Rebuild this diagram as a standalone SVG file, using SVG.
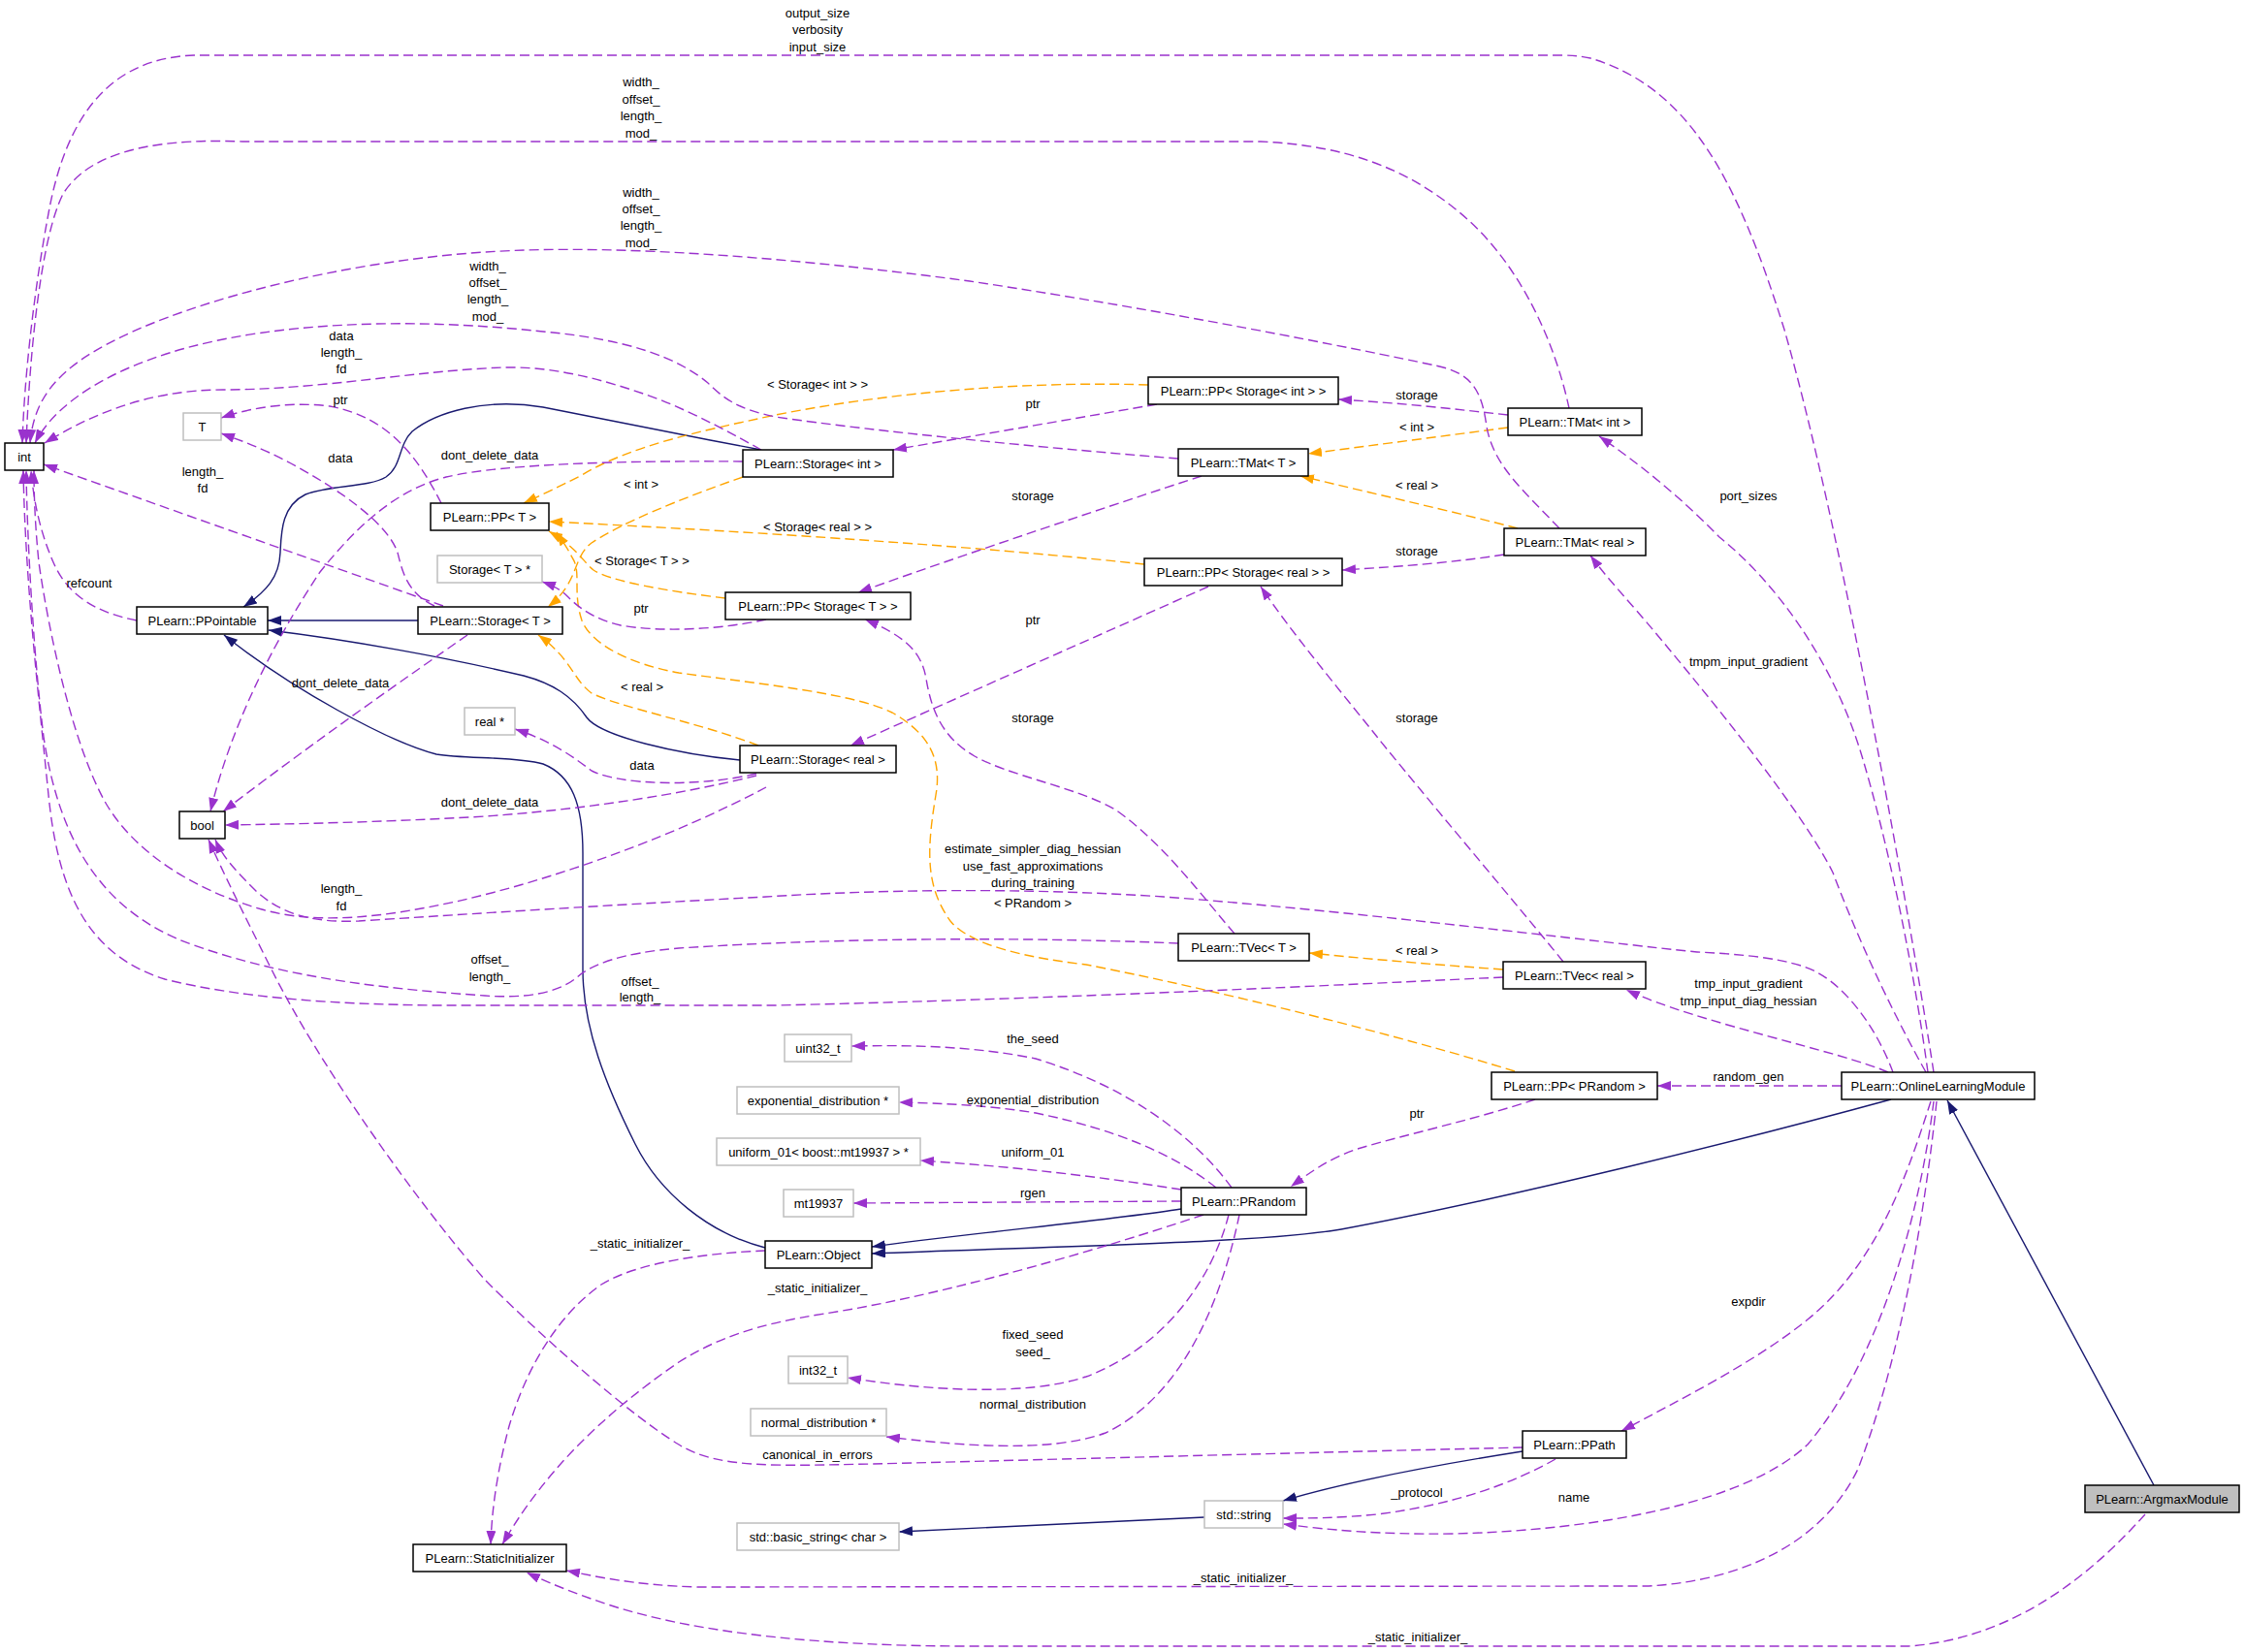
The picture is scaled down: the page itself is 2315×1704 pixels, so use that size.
<svg xmlns="http://www.w3.org/2000/svg" width="2315" height="1704" viewBox="0 0 2315 1704">
<style>
text{font-family:'Liberation Sans',Arial,Helvetica,sans-serif;font-size:13px;fill:#000;text-anchor:middle}
.n rect{fill:#fff;stroke:#000;stroke-width:1.5}
.g rect{fill:#fff;stroke:#bfbfbf;stroke-width:1.5}
.h rect{fill:#bfbfbf;stroke:#000;stroke-width:1.5}
.pu{fill:none;stroke:#9a32cd;stroke-width:1.4;stroke-dasharray:10,5;marker-end:url(#ap)}
.or{fill:none;stroke:#ffa500;stroke-width:1.4;stroke-dasharray:10,5;marker-end:url(#ao)}
.nv{fill:none;stroke:#191970;stroke-width:1.4;marker-end:url(#an)}
</style>
<defs>
<marker id="ap" viewBox="0 0 14 10" refX="14" refY="5" markerWidth="14" markerHeight="10" markerUnits="userSpaceOnUse" orient="auto"><path d="M0,0 L14,5 L0,10 z" fill="#9a32cd"/></marker>
<marker id="ao" viewBox="0 0 14 10" refX="14" refY="5" markerWidth="14" markerHeight="10" markerUnits="userSpaceOnUse" orient="auto"><path d="M0,0 L14,5 L0,10 z" fill="#ffa500"/></marker>
<marker id="an" viewBox="0 0 14 10" refX="14" refY="5" markerWidth="14" markerHeight="10" markerUnits="userSpaceOnUse" orient="auto"><path d="M0,0 L14,5 L0,10 z" fill="#191970"/></marker>
</defs>
<rect width="2315" height="1704" fill="#fff"/>
<g id="connectors">
<!-- inheritance -->
<path class="nv" d="M2221,1532 L2008,1135"/>
<path class="nv" d="M1950,1134 C1800,1175 1560,1235 1383,1268 C1300,1282 1100,1285 899,1293"/>
<path class="nv" d="M1218,1247 C1150,1258 1000,1272 899,1286"/>
<path class="nv" d="M789,1287 C730,1272 680,1230 655,1180 C625,1120 601,1060 601,1000 L601,880 C601,830 590,800 560,788 C530,780 480,783 450,778 C400,765 300,710 231,655"/>
<path class="nv" d="M431,640 L276,640"/>
<path class="nv" d="M763,784 C700,778 620,760 605,740 C590,718 570,705 540,697 C460,678 360,660 277,650"/>
<path class="nv" d="M785,464 C700,448 600,428 560,420 C500,410 450,425 425,445 C410,460 415,480 398,492 C380,503 340,500 315,510 C290,522 290,550 289,570 C288,595 275,610 251,626"/>
<path class="nv" d="M1570,1497 C1500,1508 1400,1525 1323,1548"/>
<path class="nv" d="M1242,1565 L927,1580"/>
<!-- template instances -->
<path class="or" d="M1184,397 C1100,394 950,398 800,428 C720,445 650,460 600,490 C575,503 555,512 540,519"/>
<path class="or" d="M1180,582 C1050,568 850,552 566,538"/>
<path class="or" d="M748,617 C690,610 630,600 612,588 C600,578 595,565 566,548"/>
<path class="or" d="M1562,1105 C1450,1070 1250,1020 1120,995 C1060,988 1000,975 980,950 C955,915 955,880 965,820 C972,780 955,755 920,735 C880,715 780,705 700,694 C650,685 610,665 600,640 C590,610 600,590 590,575 C585,565 580,558 574,549"/>
<path class="or" d="M766,492 C700,515 640,540 610,560 C590,575 598,600 565,626"/>
<path class="or" d="M782,769 C720,745 640,730 610,715 C590,700 590,680 555,655"/>
<path class="or" d="M1555,441 L1349,468"/>
<path class="or" d="M1565,545 C1500,528 1420,510 1341,491"/>
<path class="or" d="M1550,1000 C1480,995 1420,990 1350,983"/>
<!-- usage -->
<path class="pu" d="M1994,1106 C1970,950 1900,550 1840,340 C1790,180 1740,90 1640,60 C1625,57 1620,57 1600,57 L200,57 C120,60 70,110 50,220 C35,300 25,390 23,457"/>
<path class="pu" d="M1618,421 C1605,360 1570,270 1500,215 C1450,175 1390,150 1300,146 L250,146 C150,142 90,160 65,200 C40,250 30,380 27,457"/>
<path class="pu" d="M1608,545 C1570,505 1540,480 1533,440 C1528,405 1520,385 1480,377 C1400,360 1200,320 1000,290 C850,270 650,250 500,260 C350,270 200,310 120,350 C60,380 35,410 31,457"/>
<path class="pu" d="M1215,473 C1100,464 900,445 800,430 C760,422 745,410 730,395 C700,370 650,350 560,342 C450,330 330,330 230,350 C130,370 60,410 36,457"/>
<path class="pu" d="M785,464 C760,450 720,428 680,412 C620,390 570,378 520,379 C430,382 330,402 230,402 C150,402 90,430 46,457"/>
<path class="pu" d="M457,625 L45,479"/>
<path class="pu" d="M141,640 C100,632 70,615 55,580 C42,550 35,520 32,485"/>
<path class="pu" d="M790,812 C700,860 580,905 470,930 C400,945 330,955 270,938 C200,918 140,880 110,830 C75,770 50,650 40,580 C36,540 35,510 35,485"/>
<path class="pu" d="M1952,1106 C1935,1060 1900,1010 1860,997 C1830,987 1790,984 1750,982 C1650,972 1400,940 1200,925 C1050,915 900,918 790,925 C600,935 450,945 370,950 C320,952 290,942 265,920 C245,900 230,885 222,866"/>
<path class="pu" d="M1570,1493 C1400,1497 1100,1505 900,1510 C800,1512 740,1515 700,1490 C650,1460 560,1380 500,1320 C430,1240 330,1100 280,1000 C250,940 230,900 215,866"/>
<path class="pu" d="M482,655 C420,698 320,768 230,837"/>
<path class="pu" d="M766,476 C650,475 520,478 460,492 C410,505 370,540 330,590 C290,650 240,740 217,837"/>
<path class="pu" d="M780,800 C700,820 600,835 500,842 C400,848 300,850 232,851"/>
<path class="pu" d="M780,798 C720,812 640,810 610,795 C590,780 570,765 531,752"/>
<path class="pu" d="M1193,417 L921,464"/>
<path class="pu" d="M1246,605 L877,769"/>
<path class="pu" d="M790,639 C740,650 680,652 640,645 C610,638 595,625 585,615 C578,608 570,604 559,600"/>
<path class="pu" d="M1239,491 C1150,520 1000,570 885,611"/>
<path class="pu" d="M1555,428 C1500,422 1450,416 1380,412"/>
<path class="pu" d="M1551,572 C1500,580 1450,584 1384,588"/>
<path class="pu" d="M1612,992 C1570,940 1460,810 1420,760 C1380,710 1330,650 1300,605"/>
<path class="pu" d="M1273,963 C1240,925 1200,870 1150,835 C1110,812 1040,800 1005,780 C970,760 960,730 955,700 C950,670 930,655 892,639"/>
<path class="pu" d="M1215,973 C1100,968 900,965 700,978 C640,983 610,995 595,1008 C575,1025 540,1030 500,1027 C400,1020 300,1010 200,975 C100,940 60,860 45,760 C35,680 28,560 27,485"/>
<path class="pu" d="M1550,1008 C1400,1015 1100,1030 800,1037 L450,1037 C350,1036 250,1030 170,1010 C90,985 60,920 50,820 C40,720 26,600 24,485"/>
<path class="pu" d="M1583,1134 C1520,1155 1450,1170 1400,1185 C1370,1195 1350,1210 1331,1224"/>
<path class="pu" d="M1899,1120 L1709,1120"/>
<path class="pu" d="M1947,1106 C1900,1085 1750,1055 1677,1021"/>
<path class="pu" d="M1988,1106 C1975,1010 1950,880 1920,780 C1890,680 1830,600 1773,554 C1740,520 1700,485 1649,450"/>
<path class="pu" d="M1986,1106 C1960,1060 1920,980 1890,900 C1860,840 1780,740 1709,655 C1680,620 1660,600 1640,573"/>
<path class="pu" d="M1991,1136 C1970,1200 1940,1300 1864,1361 C1810,1405 1730,1445 1672,1476"/>
<path class="pu" d="M1994,1136 C1980,1250 1940,1400 1864,1490 C1800,1550 1650,1578 1500,1582 C1420,1583 1370,1578 1323,1572"/>
<path class="pu" d="M1997,1136 C1985,1250 1960,1400 1916,1515 C1880,1590 1800,1630 1700,1636 L720,1637 C650,1635 610,1625 584,1620"/>
<path class="pu" d="M2212,1562 C2160,1620 2080,1690 1968,1698 L1000,1698 C850,1698 720,1685 630,1656 C590,1643 560,1630 543,1622"/>
<path class="pu" d="M789,1290 C740,1292 660,1300 620,1325 C570,1360 540,1420 525,1471 C512,1520 507,1560 506,1593"/>
<path class="pu" d="M1241,1253 C1100,1300 950,1340 850,1355 C780,1366 740,1380 700,1405 C620,1460 560,1520 518,1593"/>
<path class="pu" d="M1270,1225 C1230,1170 1160,1120 1068,1092 C1000,1078 930,1078 878,1079"/>
<path class="pu" d="M1254,1225 C1210,1190 1150,1165 1068,1148 C1020,1140 970,1138 927,1137"/>
<path class="pu" d="M1218,1227 C1130,1213 1040,1203 949,1197"/>
<path class="pu" d="M1218,1239 L880,1241"/>
<path class="pu" d="M1267,1253 C1250,1320 1200,1390 1120,1420 C1060,1440 960,1435 874,1421"/>
<path class="pu" d="M1278,1253 C1260,1340 1220,1440 1140,1478 C1080,1500 980,1490 914,1482"/>
<path class="pu" d="M1604,1505 C1560,1530 1500,1552 1420,1562 C1380,1566 1350,1566 1323,1566"/>
<path class="pu" d="M448,625 C420,612 415,590 410,570 C400,540 350,505 300,478 C270,462 250,455 228,447"/>
<path class="pu" d="M455,519 C430,470 400,430 340,419 C300,414 260,420 228,431"/>
</g>
<g id="edge-labels">
<text x="843" y="18">output_size</text>
<text x="843" y="35">verbosity</text>
<text x="843" y="53">input_size</text>
<text x="661" y="89">width_</text>
<text x="661" y="107">offset_</text>
<text x="661" y="124">length_</text>
<text x="661" y="142">mod_</text>
<text x="661" y="203">width_</text>
<text x="661" y="220">offset_</text>
<text x="661" y="237">length_</text>
<text x="661" y="255">mod_</text>
<text x="503" y="279">width_</text>
<text x="503" y="296">offset_</text>
<text x="503" y="313">length_</text>
<text x="503" y="331">mod_</text>
<text x="352" y="351">data</text>
<text x="352" y="368">length_</text>
<text x="352" y="385">fd</text>
<text x="351" y="417">ptr</text>
<text x="351" y="477">data</text>
<text x="209" y="491">length_</text>
<text x="209" y="508">fd</text>
<text x="505" y="474">dont_delete_data</text>
<text x="661" y="504">&lt; int &gt;</text>
<text x="92" y="606">refcount</text>
<text x="843" y="401">&lt; Storage&lt; int &gt; &gt;</text>
<text x="1065" y="421">ptr</text>
<text x="1461" y="412">storage</text>
<text x="1461" y="445">&lt; int &gt;</text>
<text x="1065" y="516">storage</text>
<text x="1461" y="505">&lt; real &gt;</text>
<text x="843" y="548">&lt; Storage&lt; real &gt; &gt;</text>
<text x="1461" y="573">storage</text>
<text x="662" y="583">&lt; Storage&lt; T &gt; &gt;</text>
<text x="661" y="632">ptr</text>
<text x="1065" y="644">ptr</text>
<text x="351" y="709">dont_delete_data</text>
<text x="662" y="713">&lt; real &gt;</text>
<text x="1065" y="745">storage</text>
<text x="1461" y="745">storage</text>
<text x="1803" y="516">port_sizes</text>
<text x="1803" y="687">tmpm_input_gradient</text>
<text x="662" y="794">data</text>
<text x="505" y="832">dont_delete_data</text>
<text x="1065" y="880">estimate_simpler_diag_hessian</text>
<text x="1065" y="898">use_fast_approximations</text>
<text x="1065" y="915">during_training</text>
<text x="352" y="921">length_</text>
<text x="352" y="939">fd</text>
<text x="1065" y="936">&lt; PRandom &gt;</text>
<text x="1461" y="985">&lt; real &gt;</text>
<text x="505" y="994">offset_</text>
<text x="505" y="1012">length_</text>
<text x="660" y="1017">offset_</text>
<text x="660" y="1033">length_</text>
<text x="1803" y="1019">tmp_input_gradient</text>
<text x="1803" y="1037">tmp_input_diag_hessian</text>
<text x="1065" y="1076">the_seed</text>
<text x="1803" y="1115">random_gen</text>
<text x="1065" y="1139">exponential_distribution</text>
<text x="1461" y="1153">ptr</text>
<text x="1065" y="1193">uniform_01</text>
<text x="1065" y="1235">rgen</text>
<text x="660" y="1287">_static_initializer_</text>
<text x="843" y="1333">_static_initializer_</text>
<text x="1803" y="1347">expdir</text>
<text x="1065" y="1381">fixed_seed</text>
<text x="1065" y="1399">seed_</text>
<text x="1065" y="1453">normal_distribution</text>
<text x="843" y="1505">canonical_in_errors</text>
<text x="1461" y="1544">_protocol</text>
<text x="1623" y="1549">name</text>
<text x="1282" y="1632">_static_initializer_</text>
<text x="1462" y="1693">_static_initializer_</text>
</g>
<g id="node-int" class="n"><rect x="5" y="457" width="40" height="28"/><text x="25" y="475.5">int</text></g>
<g id="node-T" class="g"><rect x="189" y="426" width="39" height="28"/><text x="208.5" y="444.5">T</text></g>
<g id="node-PP-T" class="n"><rect x="444" y="519" width="122" height="28"/><text x="505" y="537.5">PLearn::PP&lt; T &gt;</text></g>
<g id="node-StorageTptr" class="g"><rect x="451" y="573" width="108" height="28"/><text x="505" y="591.5">Storage&lt; T &gt; *</text></g>
<g id="node-PPointable" class="n"><rect x="141" y="626" width="135" height="28"/><text x="208.5" y="644.5">PLearn::PPointable</text></g>
<g id="node-Storage-T" class="n"><rect x="431" y="626" width="149" height="28"/><text x="505.5" y="644.5">PLearn::Storage&lt; T &gt;</text></g>
<g id="node-realptr" class="g"><rect x="479" y="730" width="52" height="28"/><text x="505" y="748.5">real *</text></g>
<g id="node-bool" class="n"><rect x="185" y="837" width="47" height="28"/><text x="208.5" y="855.5">bool</text></g>
<g id="node-Storage-int" class="n"><rect x="766" y="464" width="155" height="28"/><text x="843.5" y="482.5">PLearn::Storage&lt; int &gt;</text></g>
<g id="node-PP-Storage-T" class="n"><rect x="748" y="611" width="191" height="28"/><text x="843.5" y="629.5">PLearn::PP&lt; Storage&lt; T &gt; &gt;</text></g>
<g id="node-Storage-real" class="n"><rect x="763" y="769" width="161" height="28"/><text x="843.5" y="787.5">PLearn::Storage&lt; real &gt;</text></g>
<g id="node-PP-Storage-int" class="n"><rect x="1184" y="389" width="196" height="28"/><text x="1282" y="407.5">PLearn::PP&lt; Storage&lt; int &gt; &gt;</text></g>
<g id="node-TMat-T" class="n"><rect x="1215" y="463" width="134" height="28"/><text x="1282" y="481.5">PLearn::TMat&lt; T &gt;</text></g>
<g id="node-PP-Storage-real" class="n"><rect x="1180" y="576" width="204" height="28"/><text x="1282" y="594.5">PLearn::PP&lt; Storage&lt; real &gt; &gt;</text></g>
<g id="node-TVec-T" class="n"><rect x="1215" y="963" width="135" height="28"/><text x="1282.5" y="981.5">PLearn::TVec&lt; T &gt;</text></g>
<g id="node-uint32" class="g"><rect x="809" y="1067" width="69" height="28"/><text x="843.5" y="1085.5">uint32_t</text></g>
<g id="node-expdist" class="g"><rect x="760" y="1121" width="167" height="28"/><text x="843.5" y="1139.5">exponential_distribution *</text></g>
<g id="node-uniform01" class="g"><rect x="739" y="1174" width="210" height="28"/><text x="844" y="1192.5">uniform_01&lt; boost::mt19937 &gt; *</text></g>
<g id="node-mt19937" class="g"><rect x="808" y="1227" width="72" height="28"/><text x="844" y="1245.5">mt19937</text></g>
<g id="node-PRandom" class="n"><rect x="1218" y="1225" width="129" height="28"/><text x="1282.5" y="1243.5">PLearn::PRandom</text></g>
<g id="node-Object" class="n"><rect x="789" y="1280" width="110" height="28"/><text x="844" y="1298.5">PLearn::Object</text></g>
<g id="node-int32" class="g"><rect x="813" y="1399" width="61" height="28"/><text x="843.5" y="1417.5">int32_t</text></g>
<g id="node-normdist" class="g"><rect x="774" y="1453" width="140" height="28"/><text x="844" y="1471.5">normal_distribution *</text></g>
<g id="node-string" class="g"><rect x="1242" y="1548" width="81" height="28"/><text x="1282.5" y="1566.5">std::string</text></g>
<g id="node-basic-string" class="g"><rect x="760" y="1571" width="167" height="28"/><text x="843.5" y="1589.5">std::basic_string&lt; char &gt;</text></g>
<g id="node-StaticInitializer" class="n"><rect x="426" y="1593" width="158" height="28"/><text x="505" y="1611.5">PLearn::StaticInitializer</text></g>
<g id="node-TMat-int" class="n"><rect x="1555" y="421" width="138" height="28"/><text x="1624" y="439.5">PLearn::TMat&lt; int &gt;</text></g>
<g id="node-TMat-real" class="n"><rect x="1551" y="545" width="146" height="28"/><text x="1624" y="563.5">PLearn::TMat&lt; real &gt;</text></g>
<g id="node-TVec-real" class="n"><rect x="1550" y="992" width="147" height="28"/><text x="1623.5" y="1010.5">PLearn::TVec&lt; real &gt;</text></g>
<g id="node-PP-PRandom" class="n"><rect x="1538" y="1106" width="171" height="28"/><text x="1623.5" y="1124.5">PLearn::PP&lt; PRandom &gt;</text></g>
<g id="node-OnlineLearningModule" class="n"><rect x="1899" y="1106" width="199" height="28"/><text x="1998.5" y="1124.5">PLearn::OnlineLearningModule</text></g>
<g id="node-PPath" class="n"><rect x="1570" y="1476" width="107" height="28"/><text x="1623.5" y="1494.5">PLearn::PPath</text></g>
<g id="node-ArgmaxModule" class="h"><rect x="2150" y="1532" width="159" height="28"/><text x="2229.5" y="1550.5">PLearn::ArgmaxModule</text></g>
</svg>
